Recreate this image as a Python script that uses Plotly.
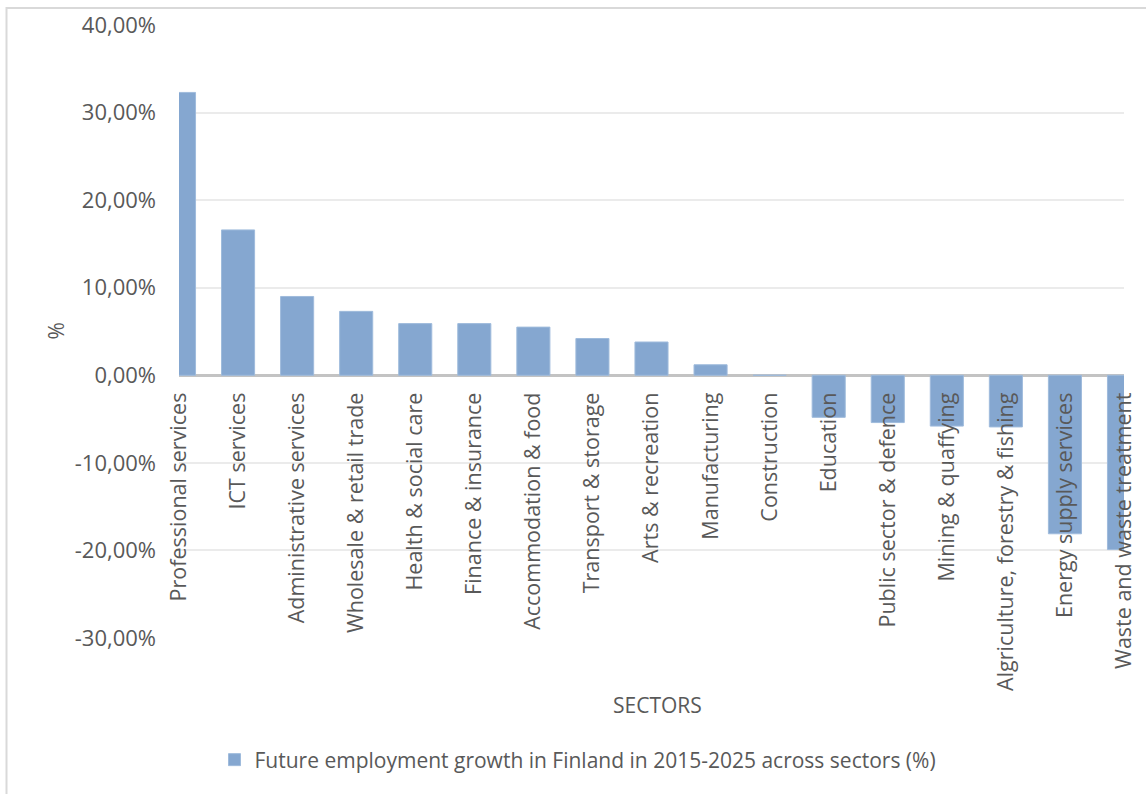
import plotly.graph_objects as go

# Sectors and projected employment growth 2015-2025 (fraction)
sectors = [
    "Professional services", "ICT services", "Administrative services",
    "Wholesale & retail trade", "Health & social care", "Finance & insurance",
    "Accommodation & food", "Transport & storage", "Arts & recreation",
    "Manufacturing", "Construction", "Education", "Public sector & defence",
    "Mining & quaffying", "Algriculture, forestry & fishing",
    "Energy supply services", "Waste and waste treatment",
]
growth = [
    0.323, 0.166, 0.090, 0.073, 0.059, 0.059, 0.055, 0.042, 0.038,
    0.012, 0.000, -0.048, -0.054, -0.058, -0.059, -0.181, -0.199,
]
y_ticks = [-0.3, -0.2, -0.1, 0.0, 0.1, 0.2, 0.3, 0.4]
y_tick_text = ["-30,00%", "-20,00%", "-10,00%", "0,00%", "10,00%", "20,00%", "30,00%", "40,00%"]

series_name = "Future employment growth in Finland in 2015-2025 across sectors (%)"

FONT = "Open Sans"
GREY = "#595959"
BAR = "#85a7d0"

y_min, y_max = -0.3, 0.4
zero_pos = (0 - y_min) / (y_max - y_min)

fig = go.Figure()
fig.add_trace(go.Bar(
    x=list(range(len(sectors))),
    y=growth,
    name=series_name,
    marker=dict(color=BAR, line=dict(color="#9fbbdc", width=1)),
    width=0.56,
    showlegend=True,
))

fig.update_layout(
    width=1146,
    height=794,
    margin=dict(l=179, r=22, t=25, b=156),
    paper_bgcolor="white",
    plot_bgcolor="white",
    font=dict(family=FONT, color=GREY),
    bargap=0.44,
    xaxis=dict(
        range=[0, 16.0],
        tickmode="array",
        tickvals=list(range(len(sectors))),
        ticktext=sectors,
        tickangle=-90,
        tickfont=dict(size=21.5, color=GREY, family=FONT),
        showgrid=False,
        showline=False,
        zeroline=False,
        ticks="",
        anchor="free",
        position=zero_pos,
        ticklabelstandoff=12,
        automargin=False,
    ),
    yaxis=dict(
        range=[y_min, y_max],
        tickmode="array",
        tickvals=y_ticks,
        ticktext=y_tick_text,
        tickfont=dict(size=22, color=GREY, family=FONT),
        showgrid=True,
        gridcolor="#ebebeb",
        gridwidth=1.5,
        zeroline=True,
        zerolinecolor="#c3c3c3",
        zerolinewidth=2.5,
        showline=False,
        ticks="",
        ticklabelstandoff=22,
        automargin=False,
    ),
    legend=dict(
        orientation="h",
        x=(578 - 179) / 945,
        xanchor="center",
        y=-0.199,
        yanchor="middle",
        font=dict(size=21, color=GREY, family=FONT),
        itemwidth=30,
    ),
    annotations=[
        dict(
            text="SECTORS", xref="paper", yref="paper",
            x=(657 - 179) / 945, y=(638 - 705) / 613,
            showarrow=False, xanchor="center", yanchor="middle",
            font=dict(size=21, color=GREY, family=FONT),
        ),
        dict(
            text="%", xref="paper", yref="paper",
            x=(55 - 179) / 945, y=0.5, textangle=-90,
            showarrow=False, xanchor="center", yanchor="middle",
            font=dict(size=21, color=GREY, family=FONT),
        ),
    ],
    shapes=[
        # chart area frame (left and top edges)
        dict(
            type="path", xref="paper", yref="paper",
            path="M %f,%f L %f,%f L %f,%f" % (
                (6.5 - 179) / 945, (638 - 800) / 613,
                (6.5 - 179) / 945, (638 - 8) / 613,
                (1150 - 179) / 945, (638 - 8) / 613,
            ),
            line=dict(color="#d9d9d9", width=2),
        ),
    ],
)

fig.write_html("out.html")
